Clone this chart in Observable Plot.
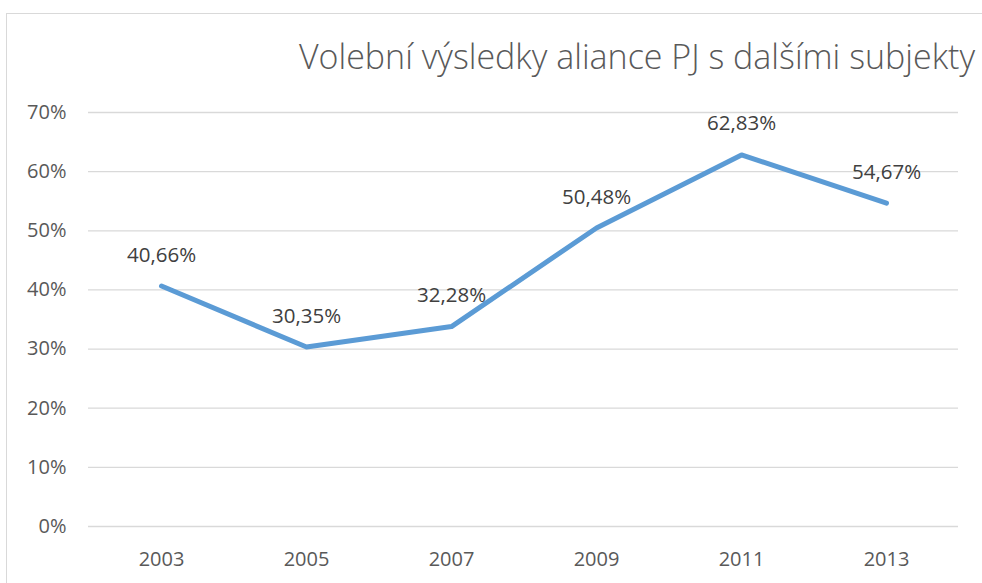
<!DOCTYPE html>
<html>
<head>
<meta charset="utf-8">
<script src="https://cdn.jsdelivr.net/npm/d3@7"></script>
<script src="https://cdn.jsdelivr.net/npm/@observablehq/plot@0.6"></script>
<style>
  html, body { margin: 0; padding: 0; background: #fff; overflow: hidden; }
  #wrap { position: relative; width: 982px; height: 583px; }
  #border { position: absolute; left: 6px; top: 13px; width: 1100px; height: 700px; border: 1.5px solid #d9d9d9; box-sizing: border-box; }
  #title { position: absolute; left: 297px; top: 39px; width: 680px; text-align: center; font-family: "Open Sans", sans-serif; font-weight: 300; font-size: 34px; line-height: 1; color: #595959; white-space: nowrap; }
  #chart { position: absolute; left: 0; top: 0; }
</style>
</head>
<body>
<div id="wrap">
  <div id="border"></div>
  <div id="chart"></div>
  <div id="title">Volební výsledky aliance PJ s dalšími subjekty</div>
</div>
<script>
const years = ["2003", "2005", "2007", "2009", "2011", "2013"];
const values = [0.4066, 0.3035, 0.338, 0.5048, 0.6283, 0.5467];
const labels = ["40,66%", "30,35%", "32,28%", "50,48%", "62,83%", "54,67%"];
const yTicks = [0, 0.1, 0.2, 0.3, 0.4, 0.5, 0.6, 0.7];

const data = years.map((y, i) => ({year: y, value: values[i], label: labels[i]}));
const pct = d => Math.round(d * 100) + "%";

const chart = Plot.plot({
  width: 982,
  height: 583,
  marginLeft: 88,
  marginRight: 24,
  marginTop: 112,
  marginBottom: 57,
  style: {fontFamily: "'Open Sans', sans-serif", fontSize: "20px", color: "#595959", background: "transparent", overflow: "visible"},
  x: {type: "point", domain: years, padding: 0.5, label: null},
  y: {domain: [0, 0.7], label: null},
  marks: [
    Plot.gridY(yTicks, {stroke: "#d9d9d9", strokeOpacity: 1, strokeWidth: 1.3}),
    Plot.axisY(yTicks, {tickSize: 0, tickPadding: 22, tickFormat: pct, fill: "#595959", fontSize: 20, label: null}),
    Plot.axisX(years, {tickSize: 0, tickPadding: 25, fill: "#595959", fontSize: 20, label: null}),
    Plot.line(data, {x: "year", y: "value", stroke: "#5b9bd5", strokeWidth: 5, strokeLinejoin: "round", strokeLinecap: "round"}),
    Plot.text(data, {x: "year", y: "value", text: "label", dy: -31, fill: "#404040", fontSize: 20.5})
  ]
});
document.getElementById("chart").appendChild(chart);
</script>
</body>
</html>
